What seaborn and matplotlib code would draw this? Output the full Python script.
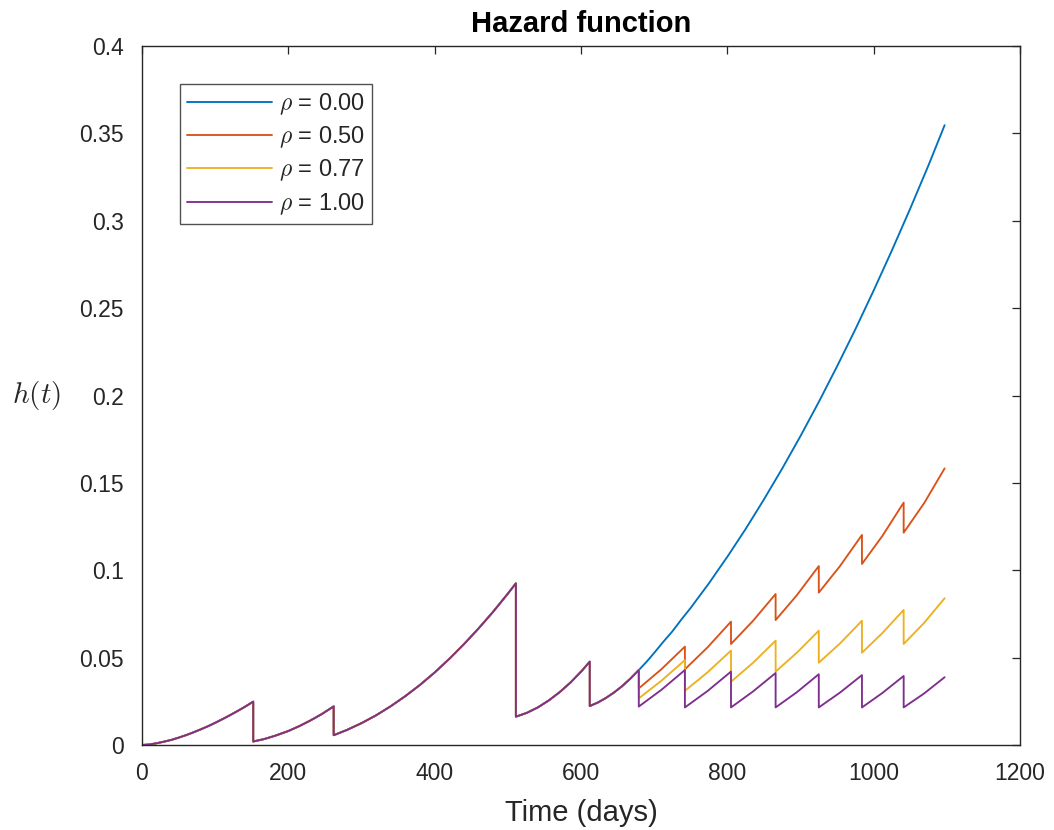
import numpy as np
import pandas as pd
import matplotlib
matplotlib.use("Agg")
import matplotlib.pyplot as plt
import seaborn as sns
from matplotlib.ticker import FuncFormatter

# ---- data -------------------------------------------------------------
# Common hazard history (identical for every rho) up to day 679;
# a repeated day marks the drop caused by a maintenance action.
shared_t = [0, 10, 20, 30, 40, 50, 60, 70, 80, 90, 100, 110, 120, 130, 140, 152,
            152, 167, 182, 200, 215, 230, 245, 262,
            262, 280, 300, 320, 340, 360, 380, 400, 420, 440, 460, 480, 500, 511,
            511, 526, 541, 556, 571, 586, 601, 612,
            612, 623, 634, 645, 656, 667, 679]
shared_h = [0.0, 0.0003, 0.0010, 0.0019, 0.0029, 0.0042, 0.0056, 0.0072,
            0.0089, 0.0107, 0.0127, 0.0148, 0.0170, 0.0193, 0.0217, 0.0248,
            0.0020, 0.0034, 0.0053, 0.0080, 0.0108, 0.0140, 0.0175, 0.0221,
            0.0056, 0.0086, 0.0125, 0.0170, 0.0222, 0.0280, 0.0344, 0.0415,
            0.0493, 0.0577, 0.0667, 0.0763, 0.0866, 0.0925,
            0.0162, 0.0184, 0.0215, 0.0255, 0.0303, 0.0359, 0.0424, 0.0477,
            0.0223, 0.0243, 0.0269, 0.0300, 0.0336, 0.0378, 0.0429]

# rho = 0.00 : no improvement after day 679
rho0_t = [690, 700, 712, 725, 737, 750, 762, 775, 787, 800, 825, 850, 875, 900,
          925, 950, 975, 1000, 1025, 1050, 1075, 1097]
rho0_h = [0.0478, 0.0527, 0.0588, 0.0651, 0.0717, 0.0785, 0.0853, 0.0926,
          0.0999, 0.1077, 0.1236, 0.1405, 0.1582, 0.1768, 0.1963, 0.2167,
          0.2379, 0.2601, 0.2831, 0.3070, 0.3318, 0.3547]

# maintenance days after 679 (a repeated day marks a jump)
tail_t = [679, 710, 742, 742, 773, 805, 805, 835, 866, 866, 895, 925,
          925, 954, 984, 984, 1012, 1041, 1041, 1069, 1097]

rho050_h = [0.0324, 0.0434, 0.0563, 0.0433, 0.0559, 0.0706, 0.0578, 0.0710,
            0.0864, 0.0715, 0.0857, 0.1024, 0.0872, 0.1024, 0.1202, 0.1036,
            0.1197, 0.1387, 0.1215, 0.1384, 0.1583]
rho077_h = [0.0267, 0.0368, 0.0486, 0.0310, 0.0416, 0.0540, 0.0362, 0.0470,
            0.0597, 0.0420, 0.0528, 0.0654, 0.0471, 0.0581, 0.0711, 0.0528,
            0.0641, 0.0773, 0.0578, 0.0699, 0.0840]
rho100_h = [0.0220, 0.0316, 0.0429, 0.0215, 0.0309, 0.0420, 0.0215, 0.0306,
            0.0412, 0.0215, 0.0302, 0.0405, 0.0215, 0.0300, 0.0400, 0.0215,
            0.0298, 0.0395, 0.0215, 0.0295, 0.0388]

rho_labels = [r"$\rho$ = 0.00", r"$\rho$ = 0.50", r"$\rho$ = 0.77", r"$\rho$ = 1.00"]
colors = ["#0072BD", "#D95319", "#EDB120", "#7E2F8E"]

x_ticks = [0, 200, 400, 600, 800, 1000, 1200]
y_ticks = [0, 0.05, 0.1, 0.15, 0.2, 0.25, 0.3, 0.35, 0.4]

# ---- assemble long-form table ------------------------------------------
frames = []
tails = [(rho0_t, rho0_h), (tail_t, rho050_h), (tail_t, rho077_h), (tail_t, rho100_h)]
for label, (tt, hh) in zip(rho_labels, tails):
    t_all = list(shared_t) + list(tt)
    h_all = list(shared_h) + list(hh)
    frames.append(pd.DataFrame({"t": t_all, "h": h_all, "rho": label}))
df = pd.concat(frames, ignore_index=True)

# ---- style --------------------------------------------------------------
sns.set_theme(style="white")
plt.rcParams["font.family"] = ["Liberation Sans", "DejaVu Sans"]
plt.rcParams["mathtext.fontset"] = "cm"
edge = "#262626"

fig = plt.figure(figsize=(10.54, 8.30), dpi=100)
ax = fig.add_axes([142 / 1054, 1 - 745 / 830, 878 / 1054, 699 / 830])

sns.lineplot(data=df, x="t", y="h", hue="rho", hue_order=rho_labels,
             palette=colors, sort=False, estimator=None, linewidth=1.35,
             ax=ax, legend=False)

ax.set_xlim(0, 1200)
ax.set_ylim(0, 0.4)
ax.set_xticks(x_ticks)
ax.set_yticks(y_ticks)
ax.yaxis.set_major_formatter(FuncFormatter(lambda v, p: f"{v:g}"))

for s in ax.spines.values():
    s.set_color(edge)
    s.set_linewidth(1.0)
    s.set_visible(True)
ax.tick_params(direction="in", length=6, width=0.9, color=edge,
               top=True, right=True, labelsize=16.5, labelcolor=edge)
ax.tick_params(axis="x", pad=12)
ax.tick_params(axis="y", pad=13)

ax.set_title("Hazard function", fontsize=21, fontweight="bold", pad=10, color="black")
ax.set_xlabel("Time (days)", fontsize=21, color=edge, labelpad=10)
ax.set_ylabel(r"$h(t)$", fontsize=21, rotation=0, color=edge, ha="center", va="center")
ax.yaxis.set_label_coords(-0.12, 0.5)

handles = [plt.Line2D([], [], color=c, lw=1.35) for c in colors]
leg = ax.legend(handles, rho_labels, loc="upper left",
                bbox_to_anchor=((180 - 142) / 878, (745 - 84) / 699),
                borderaxespad=0, fontsize=17, frameon=True, fancybox=False,
                handlelength=3.6, handletextpad=0.3, borderpad=0.3,
                labelspacing=0.32)
leg.get_frame().set_edgecolor(edge)
leg.get_frame().set_linewidth(1.0)
for txt in leg.get_texts():
    txt.set_color(edge)

fig.savefig("out.png", dpi=100, facecolor="white")
